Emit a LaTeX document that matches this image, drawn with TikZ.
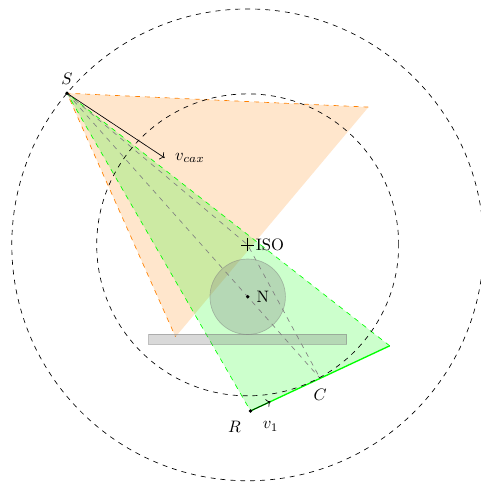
\documentclass[tikz,border=0pt]{standalone}
\usepackage{xcolor}
\usepackage{amsmath,amssymb}
\usepackage{tikz}
\usetikzlibrary{arrows.meta,positioning,calc}

\begin{document}
\begin{tikzpicture}[
    orbit/.style={dashed,thin},
    ray/.style={dashed,gray,thin},
    fan/.style={fill=orange,fill opacity=0.2},
    beam/.style={fill=green,fill opacity=0.2},
    body/.style={fill=gray,fill opacity=0.3,draw=gray,draw opacity=0.5},
    vec/.style={->,thin},
    pt/.style={circle,fill,inner sep=0.8pt}
]
\useasboundingbox (-5.25,-5.09) rectangle (4.94,5.19);
\coordinate (ISO) at (0,0);
\coordinate (S) at (140:5);
\coordinate (N) at (0,-1.1);
\coordinate (R) at (0.06,-3.52);
\coordinate (D) at (3.01,-2.14);
\coordinate (C) at ($(R)!0.5!(D)$);
\coordinate (F1) at (2.56,2.92);
\coordinate (F2) at (-1.53,-1.95);

% fan beam and detector beam
\fill[fan] (S) -- (F1) -- (F2) -- cycle;
\draw[dashed,orange] (F1) -- (S) -- (F2);
\fill[beam] (S) -- (D) -- (R) -- cycle;
\draw[dashed,green] (D) -- (S) -- (R);
\draw[thick,green] (R) -- (D);

% table and patient
\draw[body] (-2.1,-1.9) rectangle (2.1,-2.1);
\draw[body] (N) circle (0.8);

% rays
\draw[ray] (S) -- (ISO) -- (C);
\draw[ray] (S) -- (N) -- (C);

% orbits
\draw[orbit] (ISO) circle (5);
\draw[orbit] (ISO) circle (3.2);

% isocenter
\draw (-0.14,0) -- (0.14,0) (0,-0.14) -- (0,0.14);
\node[right=0.05cm of ISO] (isolabel) {ISO};
\node[pt] (ndot) at (N) {};
\node[right=0.02cm of ndot] (nlabel) {N};

% source and detector
\node[pt] (sdot) at (S) {};
\node[above=0.02cm of sdot] (slabel) {$S$};
\coordinate (vcax) at ($(S)+(2.07,-1.37)$);
\draw[vec] (S) -- (vcax);
\node[right=0.1cm of vcax] (vcaxlabel) {$v_{cax}$};
\node[pt] (rdot) at (R) {};
\node[below left=0.05cm and 0.05cm of rdot] (rlabel) {$R$};
\coordinate (v1) at ($(R)!0.47cm!(D)$);
\draw[vec] (R) -- (v1);
\node[below=0.3cm of v1] (v1label) {$v_1$};
\node[below=0.1cm of C] (clabel) {$C$};
\end{tikzpicture}
\end{document}
